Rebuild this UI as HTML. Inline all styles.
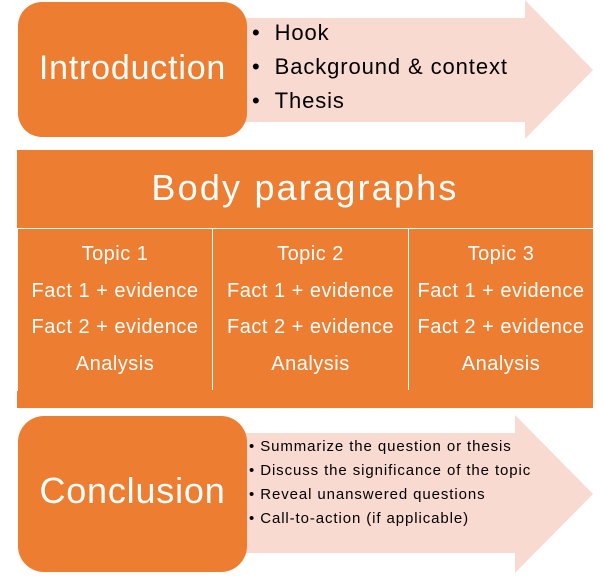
<!DOCTYPE html>
<html><head><style>
body{margin:0;width:603px;height:579px;background:#fff;position:relative;overflow:hidden;font-family:"Liberation Sans",sans-serif}
.a{position:absolute}
.t{position:absolute;white-space:nowrap}
</style></head><body>
<svg class="a" style="left:0;top:0" width="603" height="579">
<polygon points="230,18 525,18 525,0 593,70 525,139 525,122 230,122" fill="#F8DAD0"/>
<polygon points="230,433 515,433 515,415 593,494 515,573 515,553 230,553" fill="#F8DAD0"/>
<rect x="18" y="2" width="229" height="135" rx="24" fill="#ED7D31"/>
<rect x="18" y="416" width="229" height="156" rx="26" fill="#ED7D31"/>
<rect x="17" y="150" width="576" height="258" fill="#ED7D31"/>
<line x1="17" y1="228.5" x2="593" y2="228.5" stroke="#fff" stroke-width="1"/>
<line x1="212.5" y1="229" x2="212.5" y2="390" stroke="#fff" stroke-width="1"/>
<line x1="408.5" y1="229" x2="408.5" y2="390" stroke="#fff" stroke-width="1"/>
<line x1="17.5" y1="229" x2="17.5" y2="391" stroke="#fff" stroke-width="1"/>
</svg>
<div class="t" style="left:18px;width:229px;top:49px;text-align:center;color:#fff;font-size:34px;letter-spacing:0.8px">Introduction</div>
<div class="t" style="left:18px;width:229px;top:470px;text-align:center;color:#fff;font-size:36px;letter-spacing:0.8px">Conclusion</div>
<div class="t" style="left:17px;width:576px;top:167px;text-align:center;color:#fff;font-size:36px;letter-spacing:2.2px">Body paragraphs</div>
<div class="t" style="left:252px;top:16px;font-size:22px;line-height:34px;color:#000;letter-spacing:0.9px">
<div>•&nbsp;&nbsp;Hook</div><div>•&nbsp;&nbsp;Background &amp; context</div><div>•&nbsp;&nbsp;Thesis</div></div>
<div class="t" style="left:249px;top:435px;font-size:15px;line-height:24px;color:#000;letter-spacing:0.9px">
<div>•&nbsp;Summarize the question or thesis</div><div>•&nbsp;Discuss the significance of the topic</div><div>•&nbsp;Reveal unanswered questions</div><div>•&nbsp;Call-to-action (if applicable)</div></div>
<div class="t" style="left:18px;width:194px;top:236px;text-align:center;color:#fff;font-size:20px;line-height:36.5px;letter-spacing:0.5px">Topic 1<br>Fact 1 + evidence<br>Fact 2 + evidence<br>Analysis</div>
<div class="t" style="left:213px;width:195px;top:236px;text-align:center;color:#fff;font-size:20px;line-height:36.5px;letter-spacing:0.5px">Topic 2<br>Fact 1 + evidence<br>Fact 2 + evidence<br>Analysis</div>
<div class="t" style="left:409px;width:184px;top:236px;text-align:center;color:#fff;font-size:20px;line-height:36.5px;letter-spacing:0.5px">Topic 3<br>Fact 1 + evidence<br>Fact 2 + evidence<br>Analysis</div>
</body></html>
